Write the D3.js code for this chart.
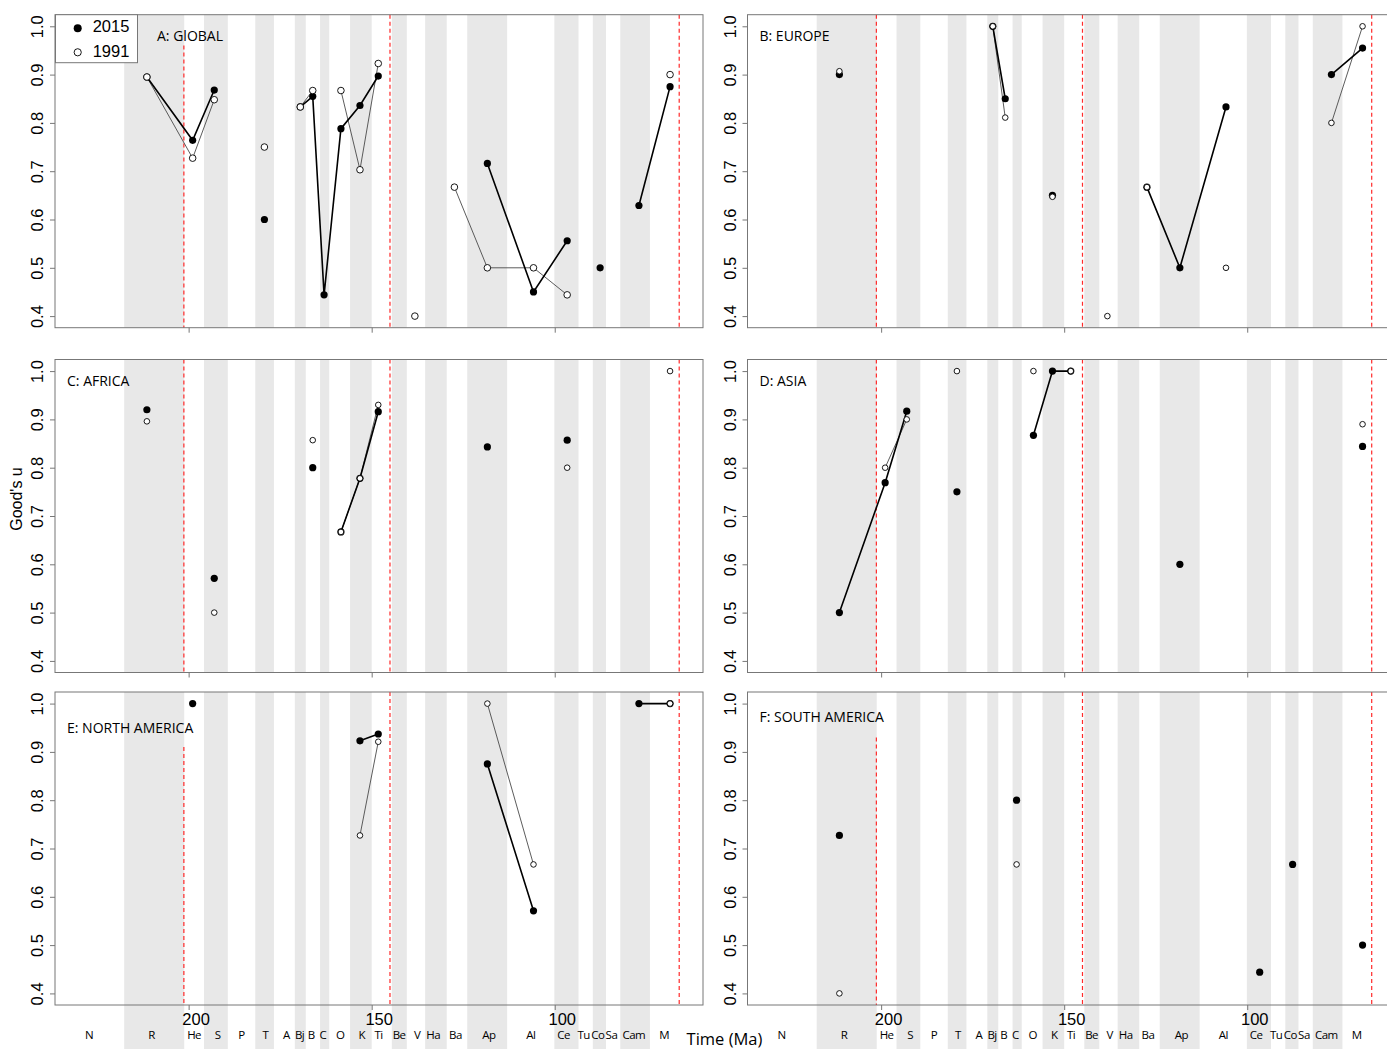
<!DOCTYPE html>
<html>
<head>
<meta charset="utf-8">
<script src="https://cdn.jsdelivr.net/npm/d3@7"></script>
<style>
body { margin: 0; background: #fff; }
text { font-family: "Liberation Sans", Arial, sans-serif; }
.title, .stage, .xlab { font-family: "Open Sans", sans-serif; }
</style>
</head>
<body>
<div id="vis"></div>
<script>

var width = 1387,
	height = 1049;

// stages, the age (Ma) each one is plotted at, and where its label sits
var stages = ["N", "R", "He", "S", "P", "T", "A", "Bj", "B", "C", "O", "K", "Ti", "Be", "V", "Ha", "Ba", "Ap", "Al", "Ce", "Tu", "Co", "Sa", "Cam", "M"];
var stageAge = [227.3, 211.4, 198.9, 193.0, 185.6, 179.3, 173.5, 169.5, 166.1, 163.0, 158.4, 153.2, 148.2, 142.6, 138.2, 133.3, 127.4, 118.4, 105.8, 96.6, 92.5, 87.6, 85.1, 77.0, 68.5];
var stageLabelAge = [227.2, 210.1, 198.5, 192.1, 185.6, 179.0, 173.3, 169.7, 166.5, 163.3, 158.6, 152.7, 148.1, 142.5, 137.6, 133.2, 127.1, 118.0, 106.5, 97.6, 92.1, 88.2, 84.5, 78.4, 70.1];

// grey bands (every second stage), older and younger edge in Ma
var bandOld = [217.6, 195.8, 181.8, 171.0, 164.1, 155.9, 144.5, 135.4, 123.9, 100.1, 89.6, 82.1];
var bandYoung = [201.2, 189.3, 176.7, 168.0, 161.6, 150.0, 140.4, 129.5, 113.0, 93.5, 86.0, 74.0];

// period boundaries (red dashed)
var boundaries = [201.3, 145.0, 66.0];

var xTicks = [200, 150, 100];
var yTicks = [0.4, 0.5, 0.6, 0.7, 0.8, 0.9, 1.0];

var _ = null;
//                 N  R     He    S     P  T     A  Bj    B     C     O     K     Ti    Be V     Ha Ba    Ap    Al    Ce    Tu Co    Sa Cam   M
var global2015   = [_, .895, .764, .868, _, .600, _, .833, .855, .444, .788, .836, .897, _, _,    _, _,    .716, .450, .556, _, .500, _, .629, .875];
var global1991   = [_, .895, .727, .848, _, .750, _, .833, .867, _,    .867, .703, .923, _, .400, _, .667, .500, .500, .444, _, _,    _, _,    .900];
var europe2015   = [_, .900, _,    _,    _, _,    _, 1.0,  .850, _,    _,    .650, _,    _, _,    _, .667, .500, .833, _,    _, _,    _, .900, .955];
var europe1991   = [_, .907, _,    _,    _, _,    _, 1.0,  .811, _,    _,    .647, _,    _, .400, _, .667, _,    .500, _,    _, _,    _, .800, 1.0];
var africa2015   = [_, .920, _,    .571, _, _,    _, _,    .800, _,    .667, .778, .916, _, _,    _, _,    .843, _,    .857, _, _,    _, _,    _];
var africa1991   = [_, .896, _,    .500, _, _,    _, _,    .857, _,    .667, .778, .930, _, _,    _, _,    _,    _,    .800, _, _,    _, _,    1.0];
var asia2015     = [_, .500, .769, .917, _, .750, _, _,    _,    _,    .867, 1.0,  1.0,  _, _,    _, _,    .600, _,    _,    _, _,    _, _,    .844];
var asia1991     = [_, _,    .800, .900, _, 1.0,  _, _,    _,    _,    1.0,  _,    1.0,  _, _,    _, _,    _,    _,    _,    _, _,    _, _,    .890];
var namerica2015 = [_, _,    1.0,  _,    _, _,    _, _,    _,    _,    _,    .923, .937, _, _,    _, _,    .875, .571, _,    _, _,    _, 1.0,  1.0];
var namerica1991 = [_, _,    _,    _,    _, _,    _, _,    _,    _,    _,    .727, .921, _, _,    _, _,    1.0,  .667, _,    _, _,    _, _,    1.0];
var samerica2015 = [_, .727, _,    _,    _, _,    _, _,    _,    .800, _,    _,    _,    _, _,    _, _,    _,    _,    .444, _, .667, _, _,    .500];
var samerica1991 = [_, .400, _,    _,    _, _,    _, _,    _,    .667, _,    _,    _,    _, _,    _, _,    _,    _,    _,    _, _,    _, _,    _];

var panels = [
	{title: "A: GlOBAL", col: 0, row: 0, s2015: global2015, s1991: global1991, titleX: 102, gapTop: 0.96, openR: 3.3, legend: true},
	{title: "B: EUROPE", col: 1, row: 0, s2015: europe2015, s1991: europe1991, titleX: 12, gapTop: null, openR: 2.8},
	{title: "C: AFRICA", col: 0, row: 1, s2015: africa2015, s1991: africa1991, titleX: 12, gapTop: null, openR: 2.8},
	{title: "D: ASIA", col: 1, row: 1, s2015: asia2015, s1991: asia1991, titleX: 12, gapTop: null, openR: 2.8},
	{title: "E: NORTH AMERICA", col: 0, row: 2, s2015: namerica2015, s1991: namerica1991, titleX: 12, gapTop: 0.91, openR: 2.8},
	{title: "F: SOUTH AMERICA", col: 1, row: 2, s2015: samerica2015, s1991: samerica1991, titleX: 12, gapTop: 0.93, openR: 2.8}
];

var colLeft = [55, 747.5],
	plotW = 648,
	rowTop = [14.7, 359.5, 692],
	plotH = 313;

var svg = d3.select('#vis')
	.append('svg')
	.attr('width', width)
	.attr('height', height)
	.style('display', 'block');

panels.forEach(function(p) {
	var x0 = colLeft[p.col],
		y0 = rowTop[p.row],
		bottomRow = p.row === 2;

	var x = d3.scaleLinear().domain([236.5, 59.5]).range([x0, x0 + plotW]),
		y = d3.scaleLinear().domain([0.376, 1.024]).range([y0 + plotH, y0]);

	var g = svg.append('g');

	// stage shading (runs down through the labels in the bottom row)
	g.selectAll('rect.band')
		.data(d3.range(bandOld.length))
		.enter()
		.append('rect')
		.attr('class', 'band')
		.attr('x', function(i) { return x(bandOld[i]); })
		.attr('width', function(i) { return x(bandYoung[i]) - x(bandOld[i]); })
		.attr('y', y0)
		.attr('height', bottomRow ? height - y0 : plotH)
		.attr('fill', '#e8e8e8');

	// boundaries
	g.selectAll('line.bound')
		.data(boundaries)
		.enter()
		.append('line')
		.attr('class', 'bound')
		.attr('x1', function(d) { return x(d); })
		.attr('x2', function(d) { return x(d); })
		.attr('y1', function(d, i) { return (i === 0 && p.gapTop) ? y(p.gapTop) : y0; })
		.attr('y2', y0 + plotH)
		.attr('stroke', '#ff2a2a')
		.attr('stroke-width', 1.2)
		.attr('stroke-dasharray', '4,3');

	// border
	g.append('rect')
		.attr('x', x0)
		.attr('y', y0)
		.attr('width', plotW)
		.attr('height', plotH)
		.attr('fill', 'none')
		.attr('stroke', '#777')
		.attr('stroke-width', 1);

	// y axis
	var yAxis = g.append('g')
		.attr('transform', 'translate(' + x0 + ',0)')
		.call(d3.axisLeft(y).tickValues(yTicks).tickSize(5).tickFormat(d3.format('.1f')));
	yAxis.select('.domain').remove();
	yAxis.selectAll('line').attr('stroke', '#777');
	yAxis.selectAll('text')
		.attr('x', null)
		.attr('dy', null)
		.attr('transform', 'translate(-11.7,0) rotate(-90)')
		.style('text-anchor', 'middle')
		.style('font-family', '"Liberation Sans", Arial, sans-serif')
		.style('font-size', '16.5px')
		.attr('fill', '#000');

	// x axis
	var xAxis = g.append('g')
		.attr('transform', 'translate(0,' + (y0 + plotH) + ')')
		.call(d3.axisBottom(x).tickValues(xTicks).tickSize(5));
	xAxis.select('.domain').remove();
	xAxis.selectAll('line').attr('stroke', '#777');
	if (bottomRow) {
		xAxis.selectAll('text')
			.attr('dx', 7)
			.style('font-family', '"Liberation Sans", Arial, sans-serif')
			.style('font-size', '16.5px')
			.attr('fill', '#000');

		g.selectAll('text.stage')
			.data(stages)
			.enter()
			.append('text')
			.attr('class', 'stage')
			.attr('x', function(d, i) { return x(stageLabelAge[i]); })
			.attr('y', 1039)
			.attr('text-anchor', 'middle')
			.style('font-size', '11.5px')
			.style('letter-spacing', '-0.5px')
			.text(function(d) { return d; });
	} else {
		xAxis.selectAll('text').remove();
	}

	// series lines: only consecutive stages are joined
	var line = d3.line()
		.defined(function(d) { return d != null; })
		.x(function(d, i) { return x(stageAge[i]); })
		.y(function(d) { return y(d); });

	g.append('path')
		.datum(p.s1991)
		.attr('d', line)
		.attr('fill', 'none')
		.attr('stroke', '#4a4a4a')
		.attr('stroke-width', 0.9);

	g.append('path')
		.datum(p.s2015)
		.attr('d', line)
		.attr('fill', 'none')
		.attr('stroke', '#000')
		.attr('stroke-width', 1.6);

	function pts(series) {
		return series.map(function(v, i) { return {i: i, v: v}; })
			.filter(function(d) { return d.v != null; });
	}

	g.selectAll('circle.s2015')
		.data(pts(p.s2015))
		.enter()
		.append('circle')
		.attr('class', 's2015')
		.attr('cx', function(d) { return x(stageAge[d.i]); })
		.attr('cy', function(d) { return y(d.v); })
		.attr('r', 3.6)
		.attr('fill', '#000');

	g.selectAll('circle.s1991')
		.data(pts(p.s1991))
		.enter()
		.append('circle')
		.attr('class', 's1991')
		.attr('cx', function(d) { return x(stageAge[d.i]); })
		.attr('cy', function(d) { return y(d.v); })
		.attr('r', p.openR)
		.attr('fill', '#fff')
		.attr('stroke', '#000')
		.attr('stroke-width', 0.9);

	// panel title
	g.append('text')
		.attr('class', 'title')
		.attr('x', x0 + p.titleX)
		.attr('y', y(1.0) + (p.row === 2 ? (p.col === 0 ? 29 : 18.5) : 15))
		.style('font-size', '14px')
		.text(p.title);

	if (p.legend) {
		var lg = g.append('g');
		lg.append('rect')
			.attr('x', x0 + 0.5)
			.attr('y', y0)
			.attr('width', 82)
			.attr('height', 48)
			.attr('fill', '#fff')
			.attr('stroke', '#777')
			.attr('stroke-width', 1);
		lg.append('circle')
			.attr('cx', x0 + 22.7).attr('cy', y0 + 13.6)
			.attr('r', 4).attr('fill', '#000');
		lg.append('circle')
			.attr('cx', x0 + 22.7).attr('cy', y0 + 37.6)
			.attr('r', 3.6).attr('fill', '#fff')
			.attr('stroke', '#000').attr('stroke-width', 0.9);
		lg.append('text')
			.attr('x', x0 + 37.7).attr('y', y0 + 17.6)
			.style('font-size', '16.5px')
			.text('2015');
		lg.append('text')
			.attr('x', x0 + 37.7).attr('y', y0 + 42)
			.style('font-size', '16.5px')
			.text('1991');
	}
});

// shared axis titles
svg.append('text')
	.attr('transform', 'translate(22.3,499) rotate(-90)')
	.attr('text-anchor', 'middle')
	.style('font-size', '16px')
	.text("Good's u");

svg.append('text')
	.attr('class', 'xlab')
	.attr('x', 724.5)
	.attr('y', 1045)
	.attr('text-anchor', 'middle')
	.style('font-size', '16.5px')
	.text('Time (Ma)');

</script>
</body>
</html>
